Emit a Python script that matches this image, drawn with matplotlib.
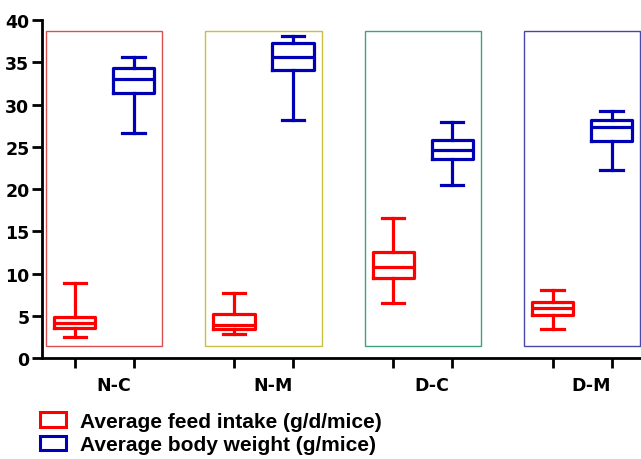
import matplotlib
matplotlib.use("Agg")
import matplotlib.pyplot as plt
from matplotlib.patches import Rectangle, Patch

plt.rcParams['font.family'] = ['Liberation Sans', 'DejaVu Sans']
plt.rcParams['font.weight'] = 'bold'

groups = ["N-C", "N-M", "D-C", "D-M"]
series = ["Average feed intake (g/d/mice)", "Average body weight (g/mice)"]

# five-number summaries: min, q1, median, q3, max
feed_min = [2.5, 2.8, 6.55, 3.45]
feed_q1 = [3.5, 3.45, 9.45, 5.05]
feed_med = [4.2, 3.85, 10.75, 5.9]
feed_q3 = [4.85, 5.15, 12.6, 6.6]
feed_max = [8.9, 7.7, 16.6, 8.1]

weight_min = [26.6, 28.2, 20.5, 22.25]
weight_q1 = [31.4, 34.1, 23.55, 25.7]
weight_med = [33.0, 35.6, 24.6, 27.3]
weight_q3 = [34.3, 37.3, 25.85, 28.15]
weight_max = [35.65, 38.05, 27.9, 29.2]

series_colors = ["#ff0000", "#0000b4"]
group_frame_colors = ["#d85050", "#c8c040", "#40a080", "#4848a8"]

fig = plt.figure(figsize=(6.41, 4.60), dpi=100)
ax = fig.add_axes([42/641, 101/460, 599/641, 338/460])

offset = 0.185
positions = []
for si, (mins, q1s, meds, q3s, maxs) in enumerate([
        (feed_min, feed_q1, feed_med, feed_q3, feed_max),
        (weight_min, weight_q1, weight_med, weight_q3, weight_max)]):
    stats = []
    pos = []
    for gi in range(len(groups)):
        stats.append(dict(whislo=mins[gi], q1=q1s[gi], med=meds[gi],
                          q3=q3s[gi], whishi=maxs[gi], fliers=[]))
        pos.append(gi + (offset if si == 1 else -offset))
    positions += pos
    c = series_colors[si]
    lw = 2.3
    ax.bxp(stats, positions=pos, widths=0.26, showfliers=False,
           boxprops=dict(color=c, linewidth=lw),
           medianprops=dict(color=c, linewidth=lw),
           whiskerprops=dict(color=c, linewidth=lw),
           capprops=dict(color=c, linewidth=lw),
           capwidths=0.14, manage_ticks=False)

for gi in range(len(groups)):
    ax.add_patch(Rectangle((gi - 0.365, 1.45), 0.73, 38.66 - 1.45,
                           fill=False, edgecolor=group_frame_colors[gi],
                           linewidth=1.0, zorder=0.5))

tick_font = dict(family=['DejaVu Sans'], weight='bold', size=12.5)

ax.set_xlim(-0.39, 3.37)
ax.set_ylim(0, 40)
ax.set_yticks(range(0, 41, 5))
ax.set_yticklabels([str(v) for v in range(0, 41, 5)], fontdict=tick_font)
ax.set_xticks(sorted(positions))
ax.set_xticklabels([])
ax.set_xticks([g + 0.06 for g in range(len(groups))], minor=True)
ax.set_xticklabels(groups, minor=True, fontdict=tick_font)
ax.tick_params(axis='x', which='minor', length=0, pad=13)
ax.tick_params(axis='x', which='major', length=7, width=2)
ax.tick_params(axis='y', length=7, width=2, pad=2)

for s in ['top', 'right']:
    ax.spines[s].set_visible(False)
for s in ['left', 'bottom']:
    ax.spines[s].set_linewidth(2)

handles = [Patch(facecolor='white', edgecolor=series_colors[i], linewidth=2.2,
                 label=series[i]) for i in range(2)]
fig.legend(handles=handles, loc='upper left', bbox_to_anchor=(40/641, 413/460 * 0 + 47/460),
           frameon=False, handlelength=1.25, handleheight=0.7,
           handletextpad=0.65, labelspacing=0.2, borderaxespad=0, borderpad=0,
           prop=dict(family=['Liberation Sans'], weight='bold', size=15))

fig.savefig("out.png", dpi=100)
